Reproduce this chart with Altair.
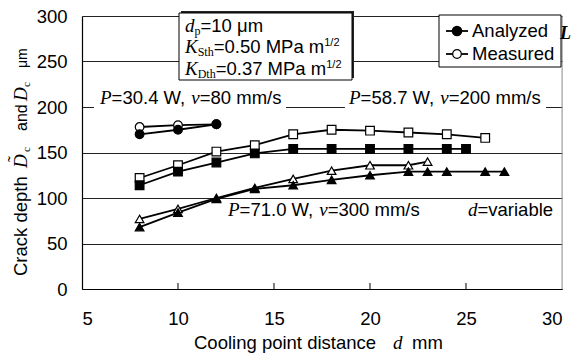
import altair as alt
import pandas as pd

# ---------------- data ----------------
d_p30_meas = [8, 10, 12]
D_p30_meas = [178, 180, 181]
d_p30_anal = [8, 10, 12]
D_p30_anal = [170, 175, 181]

d_p58_meas = [8, 10, 12, 14, 16, 18, 20, 22, 24, 26]
D_p58_meas = [122, 136, 151, 158, 170, 175, 174, 172, 170, 166]
d_p58_anal = [8, 10, 12, 14, 16, 18, 20, 22, 24, 25]
D_p58_anal = [114, 129, 139, 149, 154, 154, 154, 154, 154, 154]

d_p71_meas = [8, 10, 12, 14, 16, 18, 20, 22, 23]
D_p71_meas = [77, 88, 100, 111, 121, 130, 136, 136, 140]
d_p71_anal = [8, 10, 12, 14, 16, 18, 20, 22, 23, 24, 26, 27]
D_p71_anal = [68, 84, 99, 110, 114, 120, 125, 129, 129, 129, 129, 129]

x_ticks = [5, 10, 15, 20, 25, 30]
y_ticks = [0, 50, 100, 150, 200, 250, 300]

series = [
    ("p30_meas", "circle", "Measured", d_p30_meas, D_p30_meas),
    ("p58_meas", "square", "Measured", d_p58_meas, D_p58_meas),
    ("p71_meas", "triangle-up", "Measured", d_p71_meas, D_p71_meas),
    ("p30_anal", "circle", "Analyzed", d_p30_anal, D_p30_anal),
    ("p58_anal", "square", "Analyzed", d_p58_anal, D_p58_anal),
    ("p71_anal", "triangle-up", "Analyzed", d_p71_anal, D_p71_anal),
]
rows = []
for key, shape, kind, xs, ys in series:
    for i, (a, b) in enumerate(zip(xs, ys)):
        rows.append({"s": key, "shape": shape, "kind": kind, "d": a, "D": b, "o": i})
df = pd.DataFrame(rows)

# ---------------- layout helpers (pixel positions, absolute) ----------------
OX, OY = 82, 16          # plot-area origin in the page
W, H = 480, 273

SANS = "Liberation Sans"
SERIF = "Liberation Serif"
AW = {"A": .667, "C": .722, "M": .833, "P": .667, "W": .944, "a": .556, "b": .556,
      "c": .5, "d": .556, "e": .556, "g": .556, "h": .556, "i": .222, "k": .5,
      "l": .222, "m": .833, "n": .556, "o": .556, "p": .556, "r": .333, "s": .5,
      "t": .278, "u": .556, "v": .5, "y": .5, "z": .5, "μ": .576, "=": .584,
      ".": .278, ",": .278, "/": .278, " ": .278}
for ch in "0123456789":
    AW[ch] = .556
TW = {"P": .611, "v": .444, "d": .5, "K": .667, "D": .722, "p": .5, "S": .556,
      "t": .278, "h": .5, "c": .444, "L": .611}


def width(text, kind, size):
    tab = AW if kind == "sans" else TW
    return sum(tab.get(c, 0.5) for c in text) * size


def layout(segs, x0, y0):
    out = []
    x = x0
    for text, kind, size, dy in segs:
        out.append({"t": text, "kind": kind, "size": size, "x": x - OX, "y": y0 + dy - OY})
        x += width(text, kind, size)
    return out


FS = 18.5
FI = 19
ann = []
ann += layout([("P", "si", FI, 0), ("=30.4 W, ", "sans", FS, 0), ("v", "si", FI, 0),
               ("=80 mm/s", "sans", FS, 0)], 100, 104)
ann += layout([("P", "si", FI, 0), ("=58.7 W, ", "sans", FS, 0), ("v", "si", FI, 0),
               ("=200 mm/s", "sans", FS, 0)], 349, 104)
ann += layout([("P", "si", FI, 0), ("=71.0 W, ", "sans", FS, 0), ("v", "si", FI, 0),
               ("=300 mm/s", "sans", FS, 0)], 228, 216)
ann += layout([("d", "si", FI, 0), ("=variable", "sans", FS, 0)], 468, 216)
ann += layout([("d", "si", FI, 0), ("p", "sr", 12, 3), ("=10 μm", "sans", FS, 0)], 185, 32)
ann += layout([("K", "si", FI, 0), ("Sth", "sr", 12, 3), ("=0.50 MPa m", "sans", FS, 0),
               ("1/2", "sans", 11, -7)], 185, 53)
ann += layout([("K", "si", FI, 0), ("Dth", "sr", 12, 3), ("=0.37 MPa m", "sans", FS, 0),
               ("1/2", "sans", 11, -7)], 185, 75)
ann += layout([("Analyzed", "sans", FS, 0)], 472, 37)
ann += layout([("Measured", "sans", FS, 0)], 472, 60)
ann += layout([("Cooling point distance", "sans", FS, 0)], 194, 349)
ann += layout([("d", "si", FI, 0)], 393, 349)
ann += layout([("mm", "sans", FS, 0)], 412, 349)
ann_df = pd.DataFrame(ann)

# y-axis title (rotated, reads bottom to top)
YT_X = 27
ytitle = pd.DataFrame([
    {"t": "Crack depth", "kind": "sans", "size": 18.5, "x": YT_X - OX, "y": 276 - OY},
    {"t": "D", "kind": "si", "size": FI, "x": YT_X - OX, "y": 168 - OY},
    {"t": "\u02dc", "kind": "sr", "size": 18, "x": YT_X - 6 - OX, "y": 162 - OY},
    {"t": "c", "kind": "sr", "size": 11, "x": YT_X + 3 - OX, "y": 152 - OY},
    {"t": "and", "kind": "sans", "size": 16, "x": YT_X - OX, "y": 131 - OY},
    {"t": "D", "kind": "si", "size": FI, "x": YT_X - OX, "y": 101 - OY},
    {"t": "c", "kind": "sr", "size": 11, "x": YT_X + 3 - OX, "y": 87 - OY},
    {"t": "μm", "kind": "sans", "size": 14, "x": YT_X - OX, "y": 68 - OY},
])

boxes = pd.DataFrame([
    {"b": "shadow", "x": 181 - OX, "x2": 354 - OX, "y": 11 - OY, "y2": 78 - OY},
    {"b": "param", "x": 179 - OX, "x2": 352 - OX, "y": 13 - OY, "y2": 80 - OY},
    {"b": "legend", "x": 439 - OX, "x2": 561 - OX, "y": 15 - OY, "y2": 67 - OY},
])
masks = pd.DataFrame([
    {"x": 94 - OX, "x2": 286 - OX, "y": 92 - OY, "y2": 111 - OY},
    {"x": 345 - OX, "x2": 546 - OX, "y": 92 - OY, "y2": 111 - OY},
])
leg = pd.DataFrame([
    {"k": "Analyzed", "x": 446 - OX, "x2": 468 - OX, "xm": 457 - OX, "y": 31 - OY},
    {"k": "Measured", "x": 446 - OX, "x2": 468 - OX, "xm": 457 - OX, "y": 54 - OY},
])

# ---------------- chart ----------------
xscale = alt.Scale(domain=[5, 30], nice=False, zero=False)
yscale = alt.Scale(domain=[0, 300], nice=False)

base = alt.Chart(df)
X = alt.X("d:Q", scale=xscale,
          axis=alt.Axis(values=x_ticks, ticks=False, grid=False, labelPadding=20,
                        title=None, labelFontSize=FS, labelFont=SANS, labelColor="black",
                        domainColor="black", domainWidth=1.2))
Y = alt.Y("D:Q", scale=yscale,
          axis=alt.Axis(values=y_ticks, ticks=False, grid=True, gridColor="#222",
                        gridWidth=1, labelPadding=15, title=None, labelFontSize=FS,
                        labelFont=SANS, labelColor="black", domainColor="black",
                        domainWidth=1.2))

lines = base.mark_line(color="black", strokeWidth=1.8).encode(
    x=X, y=Y, detail="s:N", order="o:Q")

shape_scale = alt.Scale(domain=["circle", "square", "triangle-up"],
                        range=["circle", "square", "triangle-up"])
pts_meas = base.transform_filter(alt.datum.kind == "Measured").mark_point(
    filled=True, fill="white", stroke="black", strokeWidth=1.2, size=75, opacity=1
).encode(x="d:Q", y="D:Q", shape=alt.Shape("shape:N", scale=shape_scale, legend=None))
pts_anal = base.transform_filter(alt.datum.kind == "Analyzed").mark_point(
    filled=True, fill="black", stroke="black", strokeWidth=1.2, size=75, opacity=1
).encode(x="d:Q", y="D:Q", shape=alt.Shape("shape:N", scale=shape_scale, legend=None))

xticks_in = alt.Chart(pd.DataFrame({"d": x_ticks[1:-1]})).mark_rule(
    color="black", strokeWidth=1).encode(
    x="d:Q", y=alt.value(H), y2=alt.value(H - 6))
right_border = alt.Chart(pd.DataFrame({"d": [30]})).mark_rule(
    color="#999", strokeWidth=1).encode(x="d:Q", y=alt.value(0), y2=alt.value(H))

PX = lambda f: alt.X(f, scale=None, axis=None)
PY = lambda f: alt.Y(f, scale=None, axis=None)

mask_layer = alt.Chart(masks).mark_rect(fill="white", stroke=None).encode(
    x=PX("x:Q"), x2="x2:Q", y=PY("y:Q"), y2="y2:Q")
shadow_layer = alt.Chart(boxes).transform_filter(alt.datum.b == "shadow").mark_rect(
    fill="#222").encode(x=PX("x:Q"), x2="x2:Q", y=PY("y:Q"), y2="y2:Q")
box_layer = alt.Chart(boxes).transform_filter(alt.datum.b != "shadow").mark_rect(
    fill="white", stroke="black", strokeWidth=1).encode(
    x=PX("x:Q"), x2="x2:Q", y=PY("y:Q"), y2="y2:Q")

leg_lines = alt.Chart(leg).mark_rule(color="black", strokeWidth=1.8).encode(
    x=PX("x:Q"), x2="x2:Q", y=PY("y:Q"))
leg_pt_a = alt.Chart(leg).transform_filter(alt.datum.k == "Analyzed").mark_point(
    shape="circle", filled=True, fill="black", stroke="black", size=75, opacity=1).encode(
    x=PX("xm:Q"), y=PY("y:Q"))
leg_pt_m = alt.Chart(leg).transform_filter(alt.datum.k == "Measured").mark_point(
    shape="circle", filled=True, fill="white", stroke="black", strokeWidth=1.2,
    size=75, opacity=1).encode(x=PX("xm:Q"), y=PY("y:Q"))


def text_layer(data, kind, font, style="normal", weight="normal", angle=0):
    return alt.Chart(data).transform_filter(alt.datum.kind == kind).mark_text(
        font=font, fontStyle=style, fontWeight=weight, align="left",
        baseline="alphabetic", color="black", angle=angle).encode(
        x=PX("x:Q"), y=PY("y:Q"), text="t:N", size=alt.Size("size:Q", scale=None))


txt = [
    text_layer(ann_df, "sans", SANS),
    text_layer(ann_df, "si", SERIF, style="italic"),
    text_layer(ann_df, "sr", SERIF),
    text_layer(ytitle, "sans", SANS, angle=270),
    text_layer(ytitle, "si", SERIF, style="italic", angle=270),
    text_layer(ytitle, "sr", SERIF, angle=270),
]

stray = alt.Chart(pd.DataFrame({"t": ["L"], "x": [560 - OX], "y": [39 - OY]})).mark_text(
    font=SERIF, fontStyle="italic", fontWeight="bold", fontSize=18, align="left",
    baseline="alphabetic", color="black").encode(x=PX("x:Q"), y=PY("y:Q"), text="t:N")

chart = alt.layer(
    right_border, lines, pts_meas, pts_anal, xticks_in,
    mask_layer, shadow_layer, box_layer, leg_lines, leg_pt_a, leg_pt_m, stray, *txt
).properties(
    width=W, height=H,
    autosize=alt.AutoSizeParams(type="none"),
    padding={"left": OX, "top": OY, "right": 573 - OX - W, "bottom": 358 - OY - H},
).configure_view(stroke=None).configure(background="white")

chart.save("out.html", embed_options={"renderer": "svg", "actions": False})
